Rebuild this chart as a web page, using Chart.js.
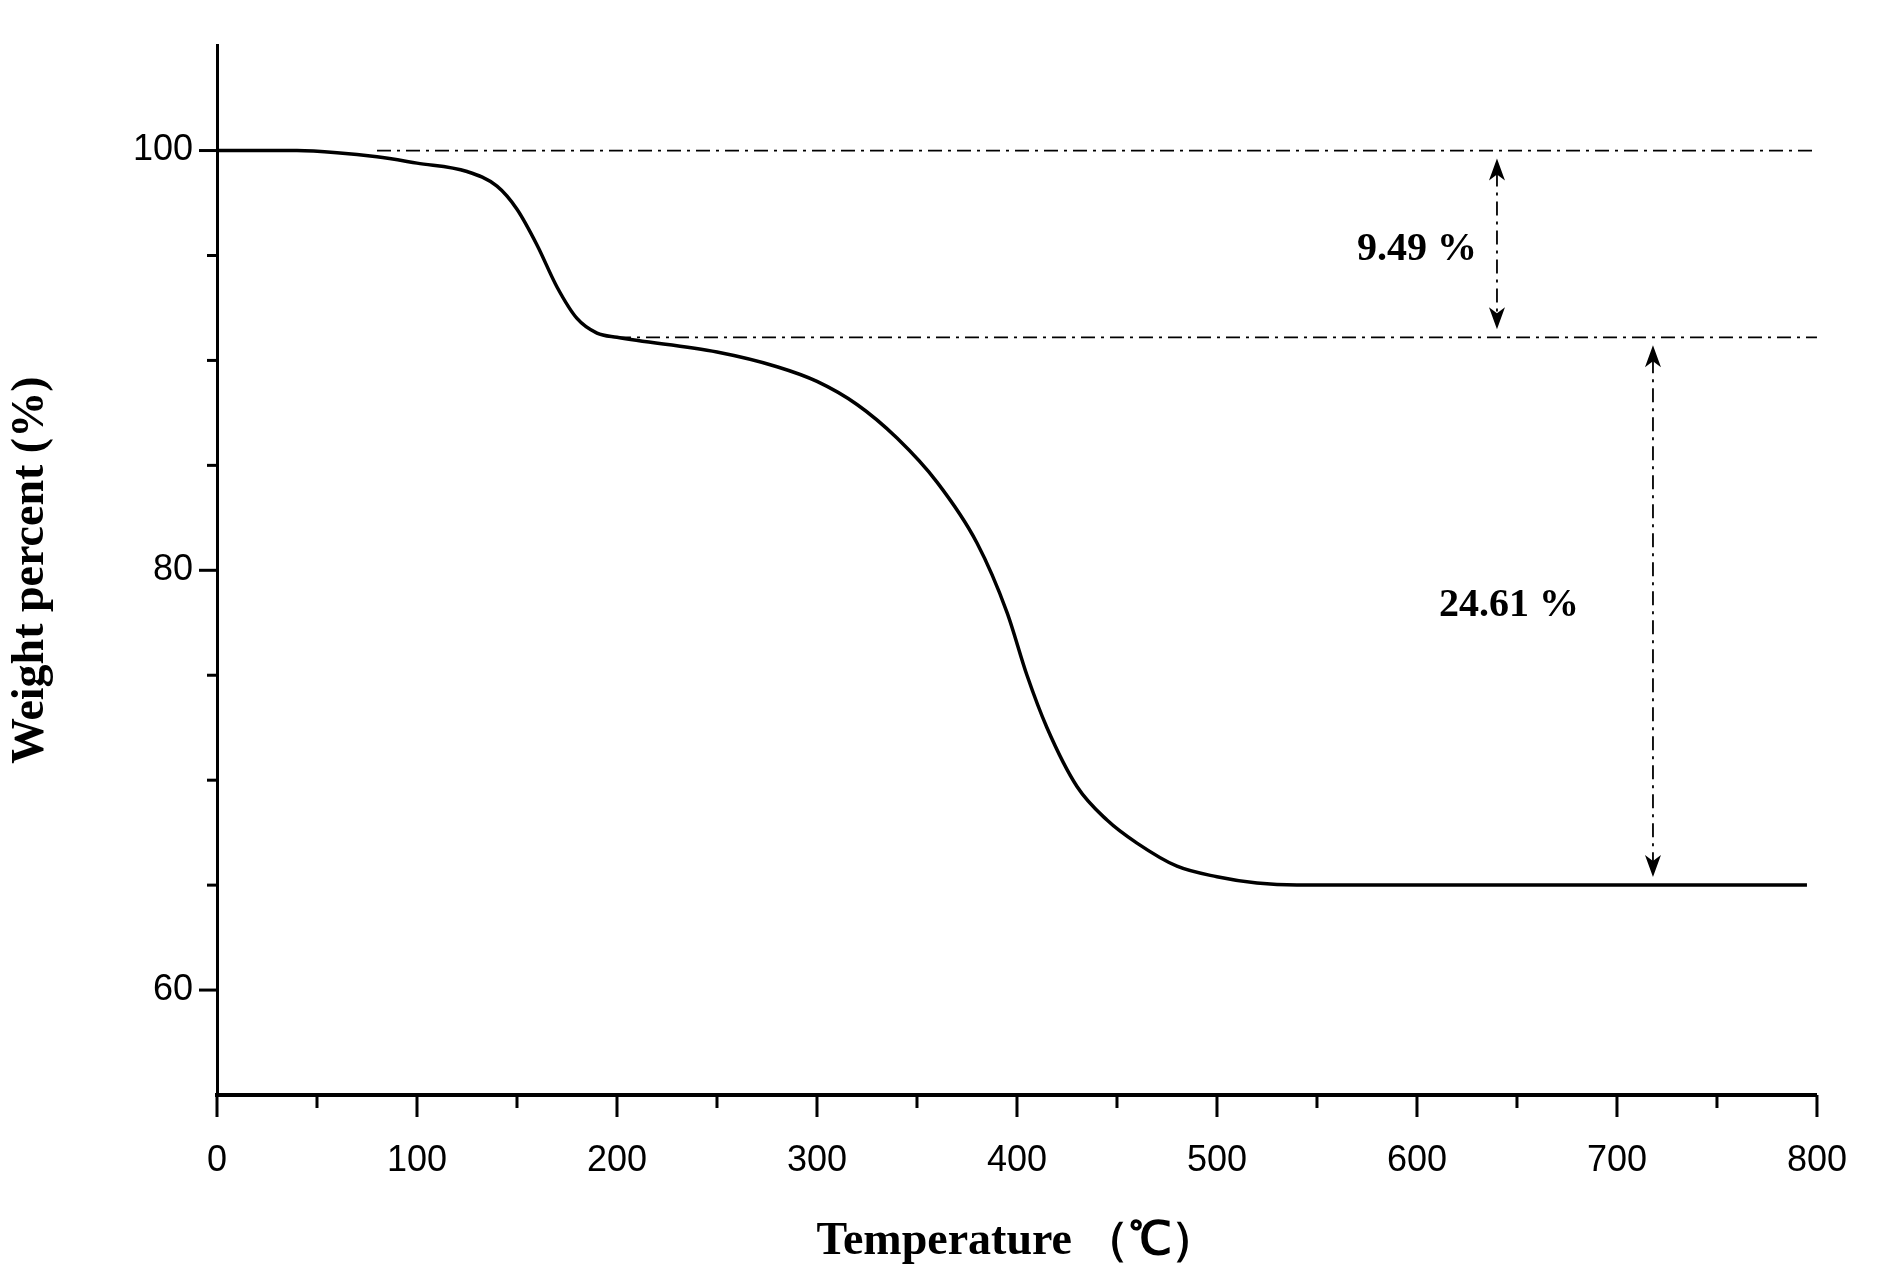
<!DOCTYPE html>
<html><head><meta charset="utf-8">
<script src="https://cdn.jsdelivr.net/npm/chart.js@4"></script>
<style>html,body{margin:0;padding:0;background:#fff}#w{width:1891px;height:1274px}</style>
</head><body><div id="w"><canvas id="c"></canvas></div>
<script>
const temps = [0,40,60,80,100,125,140,150,160,170,180,190,200,250,280,300,320,340,360,380,395,405,415,430,445,460,480,500,520,540,795];
const weights = [100,100,99.9,99.7,99.4,99.0,98.3,97.2,95.5,93.5,92.0,91.3,91.1,90.4,89.7,89.0,87.9,86.3,84.2,81.3,78.0,75.0,72.5,69.7,68.1,67.0,65.9,65.4,65.1,65.0,65.0];
const xTicks = [0,100,200,300,400,500,600,700,800];
const yTicks = [60,80,100];
const refLines = [{y:100,x0:80,x1:800},{y:91.1,x0:200,x1:800}];
const arrows = [{x:640,y0:100,y1:91.1},{x:718,y0:91.1,y1:65}];
const labels = [{text:'9.49 %',x:600,y:95.3},{text:'24.61 %',x:646,y:78.3}];

const deco = {
  id:'deco',
  afterDatasetsDraw(ch){
    const c=ch.ctx,xs=ch.scales.x,ys=ch.scales.y,a=ch.chartArea;
    c.save();
    c.strokeStyle='#000';c.fillStyle='#000';
    c.lineWidth=3;
    for(let v=0;v<=800;v+=50){const px=xs.getPixelForValue(v);c.beginPath();c.moveTo(px,a.bottom);c.lineTo(px,a.bottom+(v%100===0?22:13));c.stroke();}
    for(let v=60;v<=100;v+=5){const py=ys.getPixelForValue(v);c.beginPath();c.moveTo(a.left,py);c.lineTo(a.left-(v%20===0?18:10),py);c.stroke();}
    c.lineWidth=1.8;c.setLineDash([14,6,3,6]);
    refLines.forEach(r=>{const py=ys.getPixelForValue(r.y);c.beginPath();c.moveTo(xs.getPixelForValue(r.x0),py);c.lineTo(xs.getPixelForValue(r.x1),py);c.stroke();});
    arrows.forEach(r=>{const px=xs.getPixelForValue(r.x),p0=ys.getPixelForValue(r.y0)+8,p1=ys.getPixelForValue(r.y1)-8;
      c.setLineDash([14,6,3,6]);c.beginPath();c.moveTo(px,p0+14);c.lineTo(px,p1-14);c.stroke();
      c.setLineDash([]);
      c.beginPath();c.moveTo(px,p0);c.lineTo(px-8,p0+22);c.lineTo(px,p0+16);c.lineTo(px+8,p0+22);c.closePath();c.fill();
      c.beginPath();c.moveTo(px,p1);c.lineTo(px-8,p1-22);c.lineTo(px,p1-16);c.lineTo(px+8,p1-22);c.closePath();c.fill();});
    c.setLineDash([]);
    c.font='bold 40px "Liberation Serif"';c.textAlign='center';c.textBaseline='middle';
    labels.forEach(l=>c.fillText(l.text,xs.getPixelForValue(l.x),ys.getPixelForValue(l.y)));
    c.restore();
  }
};

new Chart(document.getElementById('c'),{
  type:'line',
  data:{datasets:[{data:temps.map((t,i)=>({x:t,y:weights[i]})),borderColor:'#000',borderWidth:3.5,pointRadius:0,tension:0.4,cubicInterpolationMode:'monotone'}]},
  options:{
    responsive:true,maintainAspectRatio:false,animation:false,
    layout:{padding:{top:-11,right:56,left:0,bottom:0}},
    plugins:{legend:{display:false},tooltip:{enabled:false}},
    scales:{
      x:{type:'linear',min:0,max:800,
        afterBuildTicks(s){s.ticks=xTicks.map(v=>({value:v}));},
        afterFit(s){s.height=179;},
        grid:{display:false,drawTicks:false},
        border:{color:'#000',width:4},
        ticks:{padding:44,color:'#000',font:{family:'"Liberation Sans Narrow","Liberation Sans",sans-serif',size:36}},
        title:{display:true,text:'Temperature （℃）',color:'#000',padding:{top:4},font:{family:'"Liberation Serif"',weight:'bold',size:46}}},
      y:{min:55,max:105,
        afterBuildTicks(s){s.ticks=yTicks.map(v=>({value:v}));},
        afterFit(s){s.width=217;},
        grid:{display:false,drawTicks:false},
        border:{color:'#000',width:3},
        ticks:{padding:24,color:'#000',font:{family:'"Liberation Sans Narrow","Liberation Sans",sans-serif',size:36}},
        title:{display:true,text:'Weight percent (%)',color:'#000',padding:{bottom:30},font:{family:'"Liberation Serif"',weight:'bold',size:46}}}
    }
  },
  plugins:[deco]
});
</script></body></html>
